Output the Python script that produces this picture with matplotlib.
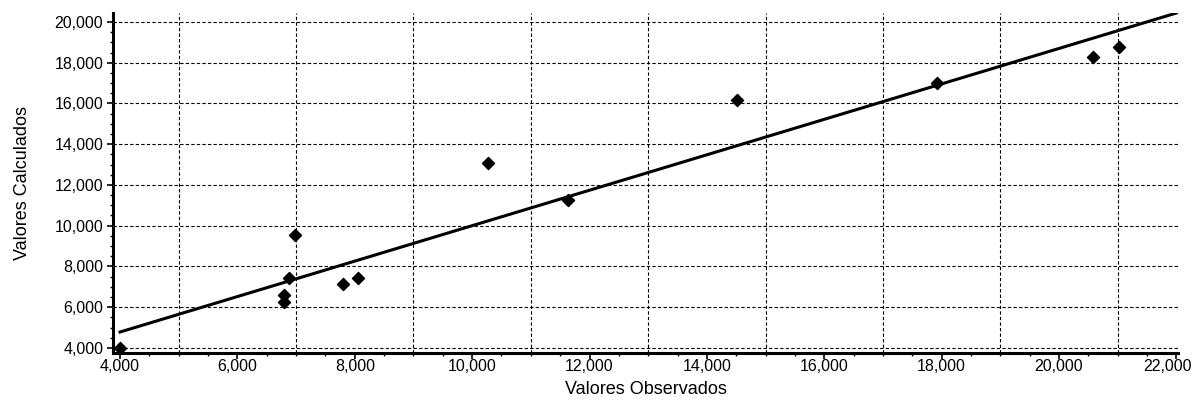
import numpy as np
import matplotlib.pyplot as plt
import matplotlib.transforms as mtransforms
from matplotlib.ticker import FuncFormatter, MultipleLocator, FixedLocator

observados = [4000, 6790, 6790, 6880, 6980, 7800, 8050, 10270, 11630, 14510, 17920, 20580, 21020]
calculados = [4000, 6260, 6600, 7440, 9550, 7140, 7440, 13080, 11260, 16170, 17000, 18280, 18770]

# fitted line end points
linha_x = [4000, 22000]
linha_y = [4780, 20440]

x_ticks = list(range(4000, 22001, 2000))
y_ticks = list(range(4000, 20001, 2000))
x_grid = list(range(5000, 22000, 2000))

plt.rcParams['font.family'] = ['Liberation Sans', 'DejaVu Sans']

fig = plt.figure(figsize=(11.96, 4.01), dpi=100)
ax = fig.add_axes([0.0945, 0.12, 0.8905, 0.8475])

# grid: vertical lines on odd thousands, horizontal on the y ticks
for gx in x_grid:
    ax.axvline(gx, color='black', lw=0.8, ls=(0, (3, 2)), zorder=1)
for gy in y_ticks:
    ax.axhline(gy, color='black', lw=0.8, ls=(0, (3, 2)), zorder=1)

ax.plot(linha_x, linha_y, color='black', lw=2.2, zorder=2)
ax.scatter(observados, calculados, marker='D', s=38, color='black', zorder=3)

ax.set_xlim(3880, 22030)
ax.set_ylim(3755, 20440)
ax.xaxis.set_major_locator(FixedLocator(x_ticks))
ax.yaxis.set_major_locator(FixedLocator(y_ticks))
ax.xaxis.set_minor_locator(MultipleLocator(500))
ax.yaxis.set_minor_locator(MultipleLocator(500))
fmt = FuncFormatter(lambda v, p: f"{int(v):,}")
ax.xaxis.set_major_formatter(fmt)
ax.yaxis.set_major_formatter(fmt)

for s in ['top', 'right']:
    ax.spines[s].set_visible(False)
for s in ['left', 'bottom']:
    ax.spines[s].set_linewidth(2.2)
ax.tick_params(which='major', length=4, width=1.2, labelsize=11.5)
ax.tick_params(axis='y', which='major', pad=3)
ax.tick_params(axis='x', which='major', pad=0.5)
ax.tick_params(which='minor', length=2.5, width=1)

ax.set_xlabel("Valores Observados", fontsize=13, labelpad=5)
ax.set_ylabel("Valores Calculados", fontsize=13, labelpad=17)

# nudge the last x label so it stays inside the figure
fig.canvas.draw()
last = ax.xaxis.get_major_ticks()[len(x_ticks) - 1].label1
last.set_transform(last.get_transform() +
                   mtransforms.ScaledTranslation(-6 / 72, 0, fig.dpi_scale_trans))

fig.savefig("out.png", dpi=100)
